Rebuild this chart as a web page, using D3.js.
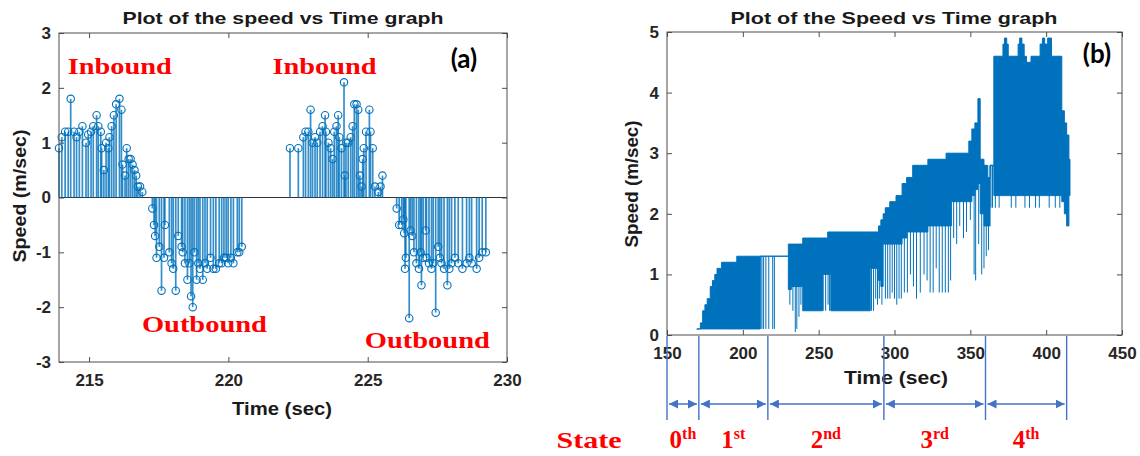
<!DOCTYPE html>
<html>
<head>
<meta charset="utf-8">
<title>Speed vs Time</title>
<script src="https://cdn.jsdelivr.net/npm/d3@7/dist/d3.min.js"></script>
<style>
	body { margin: 0; background: #fff; }
	#figure svg { display: block; }
	.axis text { font-family: "Liberation Sans", Arial, sans-serif; font-size: 17px; font-weight: bold; fill: #262626; }
	.axis line { stroke: #4d4d4d; }
	.axis path { display: none; }
	.title, .label { font-family: "Liberation Sans", Arial, sans-serif; font-weight: bold; fill: #1a1a1a; }
	.note { font-family: "Liberation Serif", "Times New Roman", serif; font-weight: bold; fill: #ff0000; }
	.tag { font-family: Lato, "Open Sans", sans-serif; font-weight: bold; fill: #000; }
</style>
</head>
<body>
<div id="figure"></div>
<script>
//Panel (a): stem samples (time in s, speed in m/s)
var stemTime = [
	213.92, 214.02, 214.14, 214.25, 214.34, 214.46, 214.55, 214.65, 214.76, 214.89,
	214.97, 215.07, 215.15, 215.27, 215.33, 215.42, 215.45, 215.53, 215.61, 215.69,
	215.73, 215.81, 215.89, 215.97, 216.09, 216.16, 216.20, 216.29, 216.35, 216.42,
	216.49, 216.56, 216.63, 216.69, 216.75, 216.83, 216.91,
	217.27, 217.33, 217.37, 217.42, 217.52, 217.60, 217.69, 217.72, 217.88, 217.96,
	218.02, 218.11, 218.20, 218.32, 218.36, 218.44, 218.53, 218.60, 218.66, 218.72,
	218.78, 218.86, 218.92, 218.98, 219.08, 219.16, 219.24, 219.36, 219.46, 219.55,
	219.67, 219.76, 219.84, 219.92, 219.99, 220.09, 220.18, 220.32, 220.39, 220.48,
	222.21, 222.51, 222.69, 222.77, 222.87, 222.95, 223.02, 223.11, 223.19, 223.29,
	223.38, 223.47, 223.50, 223.59, 223.67, 223.74, 223.80, 223.88, 223.94, 223.98,
	224.06, 224.15, 224.18, 224.22, 224.30, 224.39, 224.46, 224.52, 224.60, 224.66,
	224.72, 224.78, 224.82, 224.86, 224.94, 225.06, 225.10, 225.18, 225.26, 225.38,
	225.46, 225.53,
	226.04, 226.13, 226.22, 226.28, 226.31, 226.34, 226.37, 226.49, 226.54, 226.60,
	226.66, 226.75, 226.84, 226.90, 226.93, 226.99, 227.08, 227.11, 227.20, 227.29,
	227.35, 227.44, 227.53, 227.59, 227.65, 227.74, 227.86, 227.93, 228.01, 228.13,
	228.25, 228.40, 228.55, 228.65, 228.73, 228.91, 229.00, 229.11, 229.24
];
var stemSpeed = [
	0.9, 1.1, 1.2, 1.2, 1.8, 1.2, 1.1, 1.2, 1.3, 1.0,
	1.15, 1.2, 1.3, 1.5, 1.3, 1.2, 0.9, 0.5, 1.0, 0.9,
	1.1, 1.3, 1.5, 1.7, 1.8, 1.6, 0.6, 0.4, 0.9, 0.7,
	0.7, 0.6, 0.5, 0.4, 0.2, 0.2, 0.1,
	-0.2, -0.5, -0.7, -1.1, -0.9, -1.7, -1.1, -0.5, -1.0, -1.2,
	-1.3, -1.7, -0.7, -0.9, -1.0, -1.2, -1.5, -1.2, -1.8, -2.0,
	-1.0, -1.5, -1.2, -1.3, -1.5, -1.2, -1.3, -1.1, -1.3, -1.3,
	-1.2, -1.2, -1.1, -1.1, -1.2, -1.1, -1.2, -1.0, -1.0, -0.9,
	0.9, 0.9, 1.1, 1.2, 1.2, 1.6, 1.0, 1.1, 1.0, 1.2,
	1.3, 1.5, 1.2, 1.0, 0.9, 0.7, 1.2, 1.3, 1.5, 1.1,
	0.9, 2.1, 0.4, 1.0, 1.0, 1.1, 1.3, 1.7, 1.7, 1.6,
	0.4, 0.2, 0.7, 0.9, 1.2, 1.6, 1.2, 0.9, 0.2, 0.1,
	0.2, 0.4,
	-0.2, -0.5, -0.5, -0.4, -0.65, -1.3, -1.1, -2.2, -0.6, -0.7,
	-1.0, -1.2, -1.3, -1.0, -1.6, -1.1, -0.6, -1.1, -1.2, -1.3,
	-1.2, -2.1, -0.9, -1.1, -1.2, -1.3, -1.6, -1.3, -1.2, -1.1,
	-1.2, -1.3, -1.2, -1.1, -1.2, -1.3, -1.1, -1.0, -1.0
];
var stemXTicks = [215, 220, 225, 230];
var stemYTicks = [-3, -2, -1, 0, 1, 2, 3];

//Panel (b): band of the fast oscillating trace (step edges) + single dips
var speedTime = [
	169.6, 172, 173.5, 175, 176.5, 178.5, 180, 181.5, 183, 186,
	196, 211.3, 230, 232, 239.5, 252.5, 256, 258, 284, 289.5,
	291, 292.5, 294, 297, 301, 305, 308, 312, 322, 334,
	337.5, 349, 351, 353, 355, 356.5, 359, 361.5, 363, 365.5,
	371.5, 372.5, 374, 375, 381.5, 382.5, 384, 385.5, 387, 390,
	396, 397.5, 399, 401, 403.5, 410.3, 412, 413.5, 415, 415.7
];
var speedHigh = [
	0.1, 0.2, 0.4, 0.5, 0.6, 0.8, 0.9, 1.0, 1.1, 1.2,
	1.3, 1.3, 1.5, 1.5, 1.6, 1.6, 1.7, 1.7, 1.7, 1.8,
	1.9, 2.0, 2.1, 2.2, 2.3, 2.5, 2.6, 2.8, 2.9, 3.0,
	3.0, 3.2, 3.4, 3.5, 3.9, 2.9, 2.8, 2.6, 2.8, 4.6,
	4.8, 4.9, 4.8, 4.6, 4.8, 4.9, 4.8, 4.6, 4.5, 4.6,
	4.8, 4.9, 4.8, 4.9, 4.6, 3.7, 3.5, 3.3, 2.9, 2.9
];
var speedLow = [
	0.1, 0.1, 0.1, 0.1, 0.1, 0.1, 0.1, 0.1, 0.1, 0.1,
	0.1, 1.3, 0.75, 0.8, 0.4, 1.0, 1.0, 0.4, 1.1, 0.9,
	0.8, 1.5, 1.5, 1.5, 1.5, 1.6, 1.7, 1.7, 1.8, 1.8,
	2.2, 2.2, 2.3, 2.4, 2.5, 2.0, 1.8, 1.8, 2.8, 2.3,
	2.3, 2.3, 2.3, 2.3, 2.3, 2.3, 2.3, 2.3, 2.3, 2.3,
	2.3, 2.3, 2.3, 2.3, 2.3, 2.2, 2.0, 1.8, 2.3, 2.3
];
var dipTime = [
	211.8, 212.6, 213.7, 215.2, 217.1, 219.7, 220.8,
	231, 233, 234.6, 235.6, 237, 238.3,
	253, 254.6, 256.2, 257.2,
	284.8, 286.2, 287.6, 288.8, 290, 291.7,
	294, 295.5, 297, 298.5, 300, 301.5, 303, 304.5, 306.5, 308.5,
	310.5, 312.5, 314.5, 317, 319.5, 321.5, 323.5, 325.5, 327.5, 329.5,
	331.5, 333.5, 335.5, 337,
	339, 341, 343, 345.5, 347.5, 350, 352.5, 353.5, 355.5,
	357.5, 359, 360.5, 362, 363.6, 364.6,
	366.5, 369, 377, 380, 386, 389, 393, 395.5, 402, 406, 409
];
var dipLow = [
	0.1, 0.1, 0.1, 0.1, 0.1, 0.1, 0.1,
	0.5, 0.4, 0.05, 0.1, 0.3, 0.5,
	0.4, 0.4, 0.5, 0.4,
	0.4, 0.4, 0.6, 0.5, 0.6, 0.5,
	0.6, 0.6, 0.6, 0.7, 0.6, 0.5, 0.6, 0.6, 0.7, 0.7,
	1.0, 0.8, 0.6, 0.7, 1.0, 0.9, 0.7, 0.7, 1.1, 0.7,
	0.7, 0.7, 0.7, 0.9,
	1.6, 1.5, 1.8, 1.6, 1.7, 1.9, 1.0, 0.9, 1.5,
	1.0, 1.1, 1.3, 1.4, 2.1, 2.1,
	2.1, 2.1, 2.1, 2.1, 2.1, 2.1, 2.1, 2.1, 2.1, 2.1, 2.1
];
var speedXTicks = [150, 200, 250, 300, 350, 400, 450];
var speedYTicks = [0, 1, 2, 3, 4, 5];

//States under panel (b)
var stateBounds = [150, 171, 216.5, 293, 360, 413.5];
var stateNum = ["0", "1", "2", "3", "4"];
var stateSup = ["th", "st", "nd", "rd", "th"];

(function (fig) {
	'use strict';
	var blue = "#0072BD";
	var svg = d3.select("#figure").append("svg")
		.attr("width", 1140)
		.attr("height", 456);

	//Box with inward ticks on all four sides (MATLAB style)
	fig.frame = function(x, y, xTicks, yTicks) {
		var r = x.range(), h = y.range();
		var fmt = function(d) { return String(d); };
		svg.append("g").attr("class", "axis")
			.attr("transform", "translate(0," + h[0] + ")")
			.call(d3.axisBottom(x).tickValues(xTicks).tickFormat(fmt).tickSizeInner(-5).tickSizeOuter(0).tickPadding(12));
		svg.append("g").attr("class", "axis")
			.attr("transform", "translate(0," + h[1] + ")")
			.call(d3.axisTop(x).tickValues(xTicks).tickFormat("").tickSizeInner(-5).tickSizeOuter(0));
		svg.append("g").attr("class", "axis")
			.attr("transform", "translate(" + r[0] + ",0)")
			.call(d3.axisLeft(y).tickValues(yTicks).tickFormat(fmt).tickSizeInner(-5).tickSizeOuter(0).tickPadding(8));
		svg.append("g").attr("class", "axis")
			.attr("transform", "translate(" + r[1] + ",0)")
			.call(d3.axisRight(y).tickValues(yTicks).tickFormat("").tickSizeInner(-5).tickSizeOuter(0));
		svg.append("rect")
			.attr("x", r[0]).attr("y", h[1])
			.attr("width", r[1] - r[0]).attr("height", h[0] - h[1])
			.attr("fill", "none").attr("stroke", "#4d4d4d");
	};

	fig.text = function(cls, x, y, size, len, str, rot) {
		var t = svg.append("text").attr("class", cls)
			.attr("text-anchor", "middle")
			.style("font-size", size + "px")
			.text(str);
		if (rot) { t.attr("transform", "translate(" + x + "," + y + ") rotate(-90)"); }
		else { t.attr("x", x).attr("y", y); }
		if (len) { t.attr("textLength", len).attr("lengthAdjust", "spacingAndGlyphs"); }
		return t;
	};

	//Panel (a)
	fig.stem = function() {
		var x = d3.scaleLinear().domain([213.92, 230]).range([59, 507]);
		var y = d3.scaleLinear().domain([-3, 3]).range([362, 33]);
		var idx = d3.range(stemTime.length);
		svg.append("line")
			.attr("x1", x.range()[0]).attr("x2", x.range()[1])
			.attr("y1", y(0)).attr("y2", y(0))
			.attr("stroke", "#333").attr("stroke-width", 1);
		svg.append("g").selectAll("line")
			.data(idx).enter().append("line")
			.attr("x1", function(i) { return x(stemTime[i]); })
			.attr("x2", function(i) { return x(stemTime[i]); })
			.attr("y1", y(0))
			.attr("y2", function(i) { return y(stemSpeed[i]); })
			.attr("stroke", blue).attr("stroke-width", 1.7)
			.attr("stroke-opacity", 0.8);
		svg.append("g").selectAll("circle")
			.data(idx).enter().append("circle")
			.attr("cx", function(i) { return x(stemTime[i]); })
			.attr("cy", function(i) { return y(stemSpeed[i]); })
			.attr("r", 3.7)
			.attr("fill", "none").attr("stroke", blue).attr("stroke-width", 1.1);
		fig.frame(x, y, stemXTicks, stemYTicks);
		fig.text("title", 283, 24, 17, 321, "Plot of the speed vs Time graph");
		fig.text("label", 282, 415, 18, 100, "Time (sec)");
		fig.text("label", 26, 196, 18, 133, "Speed (m/sec)", true);
		fig.text("note", x(216.1), y(2.26), 24, 104, "Inbound");
		fig.text("note", x(223.45), y(2.26), 24, 104, "Inbound");
		fig.text("note", x(219.14), y(-2.46), 24, 125, "Outbound");
		fig.text("note", x(227.14), y(-2.74), 24, 125, "Outbound");
		fig.text("tag", 464, 68, 26, 0, "(a)");
	};

	//Panel (b)
	fig.speed = function() {
		var x = d3.scaleLinear().domain([150, 450]).range([667, 1122]);
		var y = d3.scaleLinear().domain([0, 5]).range([335, 32]);
		var idx = d3.range(speedTime.length);
		var band = d3.area()
			.curve(d3.curveStepAfter)
			.x(function(i) { return x(speedTime[i]); })
			.y0(function(i) { return y(speedLow[i]); })
			.y1(function(i) { return y(speedHigh[i]); });
		svg.append("path")
			.attr("d", band(idx))
			.attr("fill", blue).attr("stroke", blue).attr("stroke-width", 1);
		var at = d3.bisector(function(i) { return speedTime[i]; }).right;
		svg.append("g").selectAll("line")
			.data(d3.range(dipTime.length)).enter().append("line")
			.attr("x1", function(i) { return x(dipTime[i]); })
			.attr("x2", function(i) { return x(dipTime[i]); })
			.attr("y1", function(i) { return y(dipLow[i]); })
			.attr("y2", function(i) { return y(speedHigh[Math.max(0, at(idx, dipTime[i]) - 1)]); })
			.attr("stroke", blue).attr("stroke-width", 1);
		fig.frame(x, y, speedXTicks, speedYTicks);
		fig.text("title", 894, 24, 17, 327, "Plot of the Speed vs Time graph");
		fig.text("label", 896, 384, 18, 104, "Time (sec)");
		fig.text("label", 638, 184, 18, 127, "Speed (m/sec)", true);
		fig.text("tag", 1097, 63, 26, 0, "(b)");

		//State markers
		var arrowBlue = "#4472C4";
		svg.append("defs").append("marker")
			.attr("id", "head")
			.attr("viewBox", "0 0 10 10")
			.attr("refX", 10).attr("refY", 5)
			.attr("markerUnits", "userSpaceOnUse")
			.attr("markerWidth", 9).attr("markerHeight", 9)
			.attr("orient", "auto-start-reverse")
			.append("path").attr("d", "M0,0L10,5L0,10Z").attr("fill", arrowBlue);
		svg.append("g").selectAll("line")
			.data(stateBounds).enter().append("line")
			.attr("x1", function(d) { return x(d); })
			.attr("x2", function(d) { return x(d); })
			.attr("y1", 336).attr("y2", 420)
			.attr("stroke", arrowBlue).attr("stroke-width", 1.4);
		svg.append("g").selectAll("line")
			.data(stateNum).enter().append("line")
			.attr("x1", function(d, i) { return x(stateBounds[i]) + 2; })
			.attr("x2", function(d, i) { return x(stateBounds[i + 1]) - 2; })
			.attr("y1", 404).attr("y2", 404)
			.attr("stroke", arrowBlue).attr("stroke-width", 1.5)
			.attr("marker-start", "url(#head)")
			.attr("marker-end", "url(#head)");
		fig.text("note", 589, 448, 24, 65, "State");
		var lab = svg.append("g").selectAll("text")
			.data(stateNum).enter().append("text")
			.attr("class", "note")
			.attr("text-anchor", "middle")
			.attr("x", function(d, i) { return (x(stateBounds[i]) + x(stateBounds[i + 1])) / 2; })
			.attr("y", 448)
			.style("font-size", "25px");
		lab.append("tspan").text(function(d) { return d; });
		lab.append("tspan")
			.attr("dy", -9)
			.style("font-size", "16px")
			.text(function(d, i) { return stateSup[i]; });
	};

	fig.stem();
	fig.speed();
}(window.fig = window.fig || {}));
</script>
</body>
</html>
